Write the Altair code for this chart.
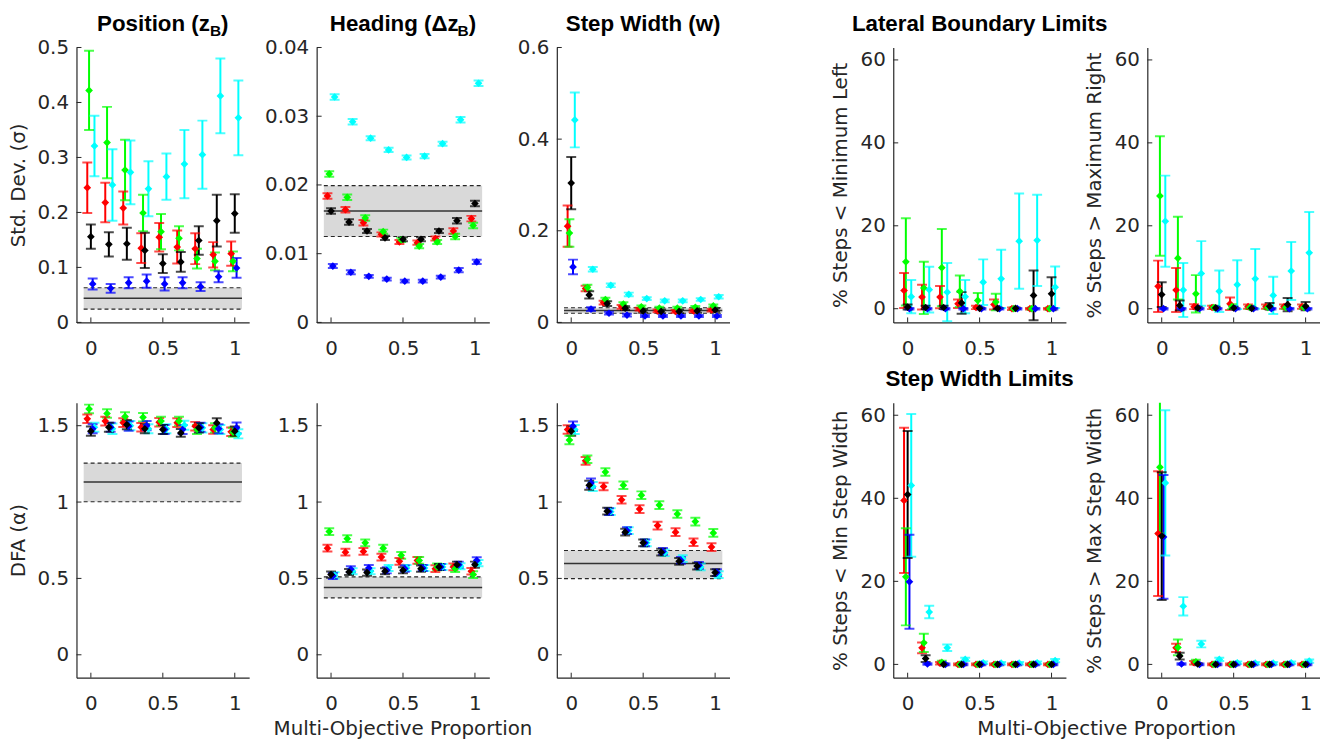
import altair as alt
import pandas as pd

XS = [0, 0.125, 0.25, 0.375, 0.5, 0.625, 0.75, 0.875, 1.0]
SERIES = ["red", "green", "cyan", "blue", "black"]
COLORS = ["#ff0000", "#00ff00", "#00ffff", "#0000ff", "#000000"]
OFFSETS = {"red": -0.025, "green": -0.0125, "black": 0.0, "blue": 0.0125, "cyan": 0.025}
BAND_X = [-0.05, 1.05]
X_TICKS = [0, 0.5, 1]

# ---- Position (z_B) : std dev
pos_mean = {
    "red":   [0.245, 0.218, 0.208, 0.135, 0.155, 0.137, 0.134, 0.123, 0.125],
    "green": [0.422, 0.327, 0.277, 0.199, 0.165, 0.153, 0.116, 0.111, 0.111],
    "cyan":  [0.321, 0.250, 0.273, 0.243, 0.265, 0.288, 0.305, 0.412, 0.372],
    "blue":  [0.070, 0.062, 0.072, 0.075, 0.070, 0.072, 0.065, 0.083, 0.099],
    "black": [0.156, 0.142, 0.143, 0.131, 0.107, 0.110, 0.149, 0.185, 0.198],
}
pos_err = {
    "red":   [0.046, 0.036, 0.030, 0.027, 0.026, 0.030, 0.028, 0.023, 0.022],
    "green": [0.072, 0.065, 0.055, 0.033, 0.032, 0.022, 0.018, 0.016, 0.018],
    "cyan":  [0.055, 0.065, 0.058, 0.050, 0.042, 0.062, 0.062, 0.068, 0.068],
    "blue":  [0.010, 0.008, 0.010, 0.012, 0.012, 0.010, 0.008, 0.010, 0.018],
    "black": [0.022, 0.022, 0.029, 0.032, 0.017, 0.018, 0.026, 0.047, 0.035],
}
pos_band = [0.024, 0.044, 0.063]
pos_ticks = [0, 0.1, 0.2, 0.3, 0.4, 0.5]

# ---- Heading : std dev
hdg_mean = {
    "red":   [0.0184, 0.0164, 0.0145, 0.0128, 0.0117, 0.0116, 0.0122, 0.0133, 0.0151],
    "green": [0.0216, 0.0182, 0.0152, 0.0132, 0.0120, 0.0111, 0.0117, 0.0125, 0.0141],
    "cyan":  [0.0328, 0.0292, 0.0268, 0.0251, 0.0240, 0.0242, 0.0260, 0.0295, 0.0348],
    "blue":  [0.0082, 0.0073, 0.0067, 0.0063, 0.0060, 0.0060, 0.0066, 0.0076, 0.0088],
    "black": [0.0162, 0.0146, 0.0133, 0.0123, 0.0121, 0.0121, 0.0133, 0.0148, 0.0173],
}
hdg_err = {
    "red":   [0.0004, 0.0004, 0.0004, 0.0003, 0.0003, 0.0003, 0.0003, 0.0004, 0.0004],
    "green": [0.0004, 0.0004, 0.0004, 0.0003, 0.0003, 0.0003, 0.0003, 0.0004, 0.0004],
    "cyan":  [0.0004, 0.0004, 0.0003, 0.0003, 0.0003, 0.0003, 0.0003, 0.0004, 0.0004],
    "blue":  [0.0003, 0.0003, 0.0002, 0.0002, 0.0002, 0.0002, 0.0002, 0.0003, 0.0003],
    "black": [0.0004, 0.0004, 0.0003, 0.0003, 0.0003, 0.0003, 0.0003, 0.0004, 0.0004],
}
hdg_band = [0.0125, 0.0162, 0.0199]
hdg_ticks = [0, 0.01, 0.02, 0.03, 0.04]

# ---- Step width : std dev
sw_mean = {
    "red":   [0.210, 0.074, 0.043, 0.034, 0.029, 0.025, 0.024, 0.025, 0.027],
    "green": [0.195, 0.076, 0.050, 0.040, 0.034, 0.031, 0.031, 0.033, 0.036],
    "cyan":  [0.442, 0.116, 0.081, 0.061, 0.052, 0.047, 0.047, 0.050, 0.056],
    "blue":  [0.121, 0.029, 0.020, 0.016, 0.014, 0.014, 0.014, 0.014, 0.014],
    "black": [0.304, 0.060, 0.041, 0.031, 0.025, 0.024, 0.024, 0.025, 0.027],
}
sw_err = {
    "red":   [0.045, 0.006, 0.004, 0.004, 0.003, 0.003, 0.003, 0.003, 0.003],
    "green": [0.030, 0.006, 0.004, 0.004, 0.003, 0.003, 0.003, 0.003, 0.003],
    "cyan":  [0.060, 0.005, 0.004, 0.004, 0.003, 0.003, 0.003, 0.003, 0.004],
    "blue":  [0.016, 0.004, 0.003, 0.003, 0.002, 0.002, 0.002, 0.002, 0.002],
    "black": [0.057, 0.008, 0.005, 0.004, 0.004, 0.004, 0.004, 0.004, 0.004],
}
sw_band = [0.020, 0.026, 0.032]
sw_ticks = [0, 0.2, 0.4, 0.6]

# ---- % steps < minimum left
lbl_mean = {
    "red":   [4.4, 2.8, 2.8, 1.2, 0.3, 1.0, 0.0, 0.0, 0.0],
    "green": [11.3, 5.0, 9.9, 4.2, 2.0, 1.6, 0.0, 0.0, 0.0],
    "cyan":  [2.9, 4.6, 4.0, 2.9, 6.4, 7.2, 16.3, 16.5, 5.2],
    "blue":  [0.0, 0.0, 0.0, 0.0, 0.0, 0.0, 0.0, 0.0, 0.0],
    "black": [0.4, 0.3, 0.3, 1.4, 0.1, 0.1, 0.1, 3.2, 3.6],
}
lbl_err = {
    "red":   [4.2, 3.0, 2.7, 1.0, 0.4, 1.2, 0.3, 0.2, 0.2],
    "green": [10.5, 6.3, 9.3, 3.8, 1.8, 2.0, 0.3, 0.3, 0.3],
    "cyan":  [4.0, 5.5, 7.0, 4.0, 5.5, 7.0, 11.5, 11.0, 5.0],
    "blue":  [0.2, 0.2, 0.2, 0.2, 0.2, 0.2, 0.2, 0.2, 0.2],
    "black": [0.6, 0.4, 0.4, 2.6, 0.2, 0.2, 0.2, 6.0, 4.0],
}

# ---- % steps > maximum right
rbl_mean = {
    "red":   [5.4, 4.5, 0.5, 0.3, 1.2, 0.5, 0.5, 0.5, 0.5],
    "green": [27.2, 12.2, 3.6, 0.3, 0.5, 0.3, 0.3, 0.3, 0.3],
    "cyan":  [21.1, 4.5, 8.5, 4.2, 5.8, 7.2, 3.2, 9.1, 13.5],
    "blue":  [0.0, 0.0, 0.0, 0.0, 0.0, 0.0, 0.0, 0.0, 0.0],
    "black": [3.4, 0.8, 0.2, 0.2, 0.2, 0.1, 0.6, 1.0, 0.6],
}
rbl_err = {
    "red":   [6.2, 5.3, 0.6, 0.4, 1.5, 0.5, 0.5, 0.5, 0.5],
    "green": [14.4, 10.0, 4.5, 0.4, 0.6, 0.4, 0.4, 0.4, 0.4],
    "cyan":  [11.0, 6.5, 7.8, 5.0, 5.9, 7.2, 4.5, 7.0, 9.8],
    "blue":  [0.2, 0.2, 0.2, 0.2, 0.2, 0.2, 0.2, 0.2, 0.2],
    "black": [3.0, 1.2, 0.3, 0.3, 0.3, 0.2, 0.8, 1.6, 1.0],
}

# ---- DFA position
dpos_mean = {
    "red":   [1.545, 1.530, 1.520, 1.490, 1.523, 1.520, 1.497, 1.475, 1.460],
    "green": [1.610, 1.580, 1.560, 1.555, 1.530, 1.530, 1.475, 1.486, 1.457],
    "cyan":  [1.490, 1.480, 1.500, 1.480, 1.480, 1.503, 1.486, 1.475, 1.447],
    "blue":  [1.480, 1.490, 1.497, 1.500, 1.475, 1.475, 1.490, 1.480, 1.486],
    "black": [1.464, 1.490, 1.507, 1.480, 1.475, 1.453, 1.486, 1.518, 1.464],
}
dpos_err = {
    "red":   [0.028, 0.028, 0.028, 0.028, 0.028, 0.028, 0.028, 0.028, 0.028],
    "green": [0.028, 0.028, 0.028, 0.028, 0.028, 0.028, 0.030, 0.030, 0.030],
    "cyan":  [0.030, 0.035, 0.030, 0.030, 0.030, 0.030, 0.030, 0.030, 0.030],
    "blue":  [0.030, 0.030, 0.030, 0.030, 0.030, 0.030, 0.030, 0.030, 0.035],
    "black": [0.030, 0.030, 0.030, 0.030, 0.030, 0.025, 0.030, 0.030, 0.030],
}
dpos_band = [1.002, 1.132, 1.255]

# ---- DFA heading
dhdg_mean = {
    "red":   [0.698, 0.672, 0.677, 0.640, 0.612, 0.618, 0.564, 0.575, 0.547],
    "green": [0.807, 0.760, 0.733, 0.698, 0.651, 0.618, 0.575, 0.564, 0.525],
    "cyan":  [0.520, 0.547, 0.547, 0.568, 0.568, 0.568, 0.575, 0.580, 0.600],
    "blue":  [0.516, 0.560, 0.568, 0.553, 0.564, 0.568, 0.575, 0.590, 0.618],
    "black": [0.525, 0.542, 0.538, 0.547, 0.553, 0.564, 0.575, 0.590, 0.590],
}
dhdg_err = {
    "red":   [0.022, 0.022, 0.022, 0.022, 0.022, 0.022, 0.022, 0.022, 0.022],
    "green": [0.022, 0.022, 0.022, 0.022, 0.022, 0.022, 0.022, 0.022, 0.022],
    "cyan":  [0.020, 0.020, 0.020, 0.020, 0.020, 0.020, 0.020, 0.020, 0.020],
    "blue":  [0.020, 0.020, 0.020, 0.020, 0.020, 0.020, 0.020, 0.020, 0.020],
    "black": [0.020, 0.020, 0.020, 0.020, 0.020, 0.020, 0.020, 0.020, 0.020],
}
dhdg_band = [0.373, 0.440, 0.510]

# ---- DFA step width
dsw_mean = {
    "red":   [1.475, 1.270, 1.102, 1.015, 0.954, 0.846, 0.803, 0.737, 0.705],
    "green": [1.406, 1.280, 1.197, 1.110, 1.045, 0.980, 0.922, 0.872, 0.798],
    "cyan":  [1.475, 1.102, 0.937, 0.813, 0.733, 0.668, 0.629, 0.575, 0.525],
    "blue":  [1.497, 1.124, 0.937, 0.813, 0.733, 0.677, 0.618, 0.586, 0.538],
    "black": [1.464, 1.110, 0.940, 0.803, 0.733, 0.672, 0.612, 0.581, 0.538],
}
dsw_err = {
    "red":   [0.028, 0.025, 0.025, 0.025, 0.025, 0.025, 0.025, 0.025, 0.025],
    "green": [0.028, 0.025, 0.025, 0.025, 0.025, 0.025, 0.025, 0.025, 0.025],
    "cyan":  [0.030, 0.030, 0.022, 0.022, 0.022, 0.022, 0.022, 0.022, 0.022],
    "blue":  [0.030, 0.030, 0.022, 0.022, 0.022, 0.022, 0.022, 0.022, 0.022],
    "black": [0.030, 0.030, 0.022, 0.022, 0.022, 0.022, 0.022, 0.022, 0.022],
}
dsw_band = [0.499, 0.597, 0.683]

# ---- % steps < min step width
minsw_mean = {
    "red":   [39.5, 4.0, 0.3, 0.0, 0.0, 0.0, 0.0, 0.0, 0.0],
    "green": [21.1, 5.2, 0.5, 0.0, 0.0, 0.0, 0.0, 0.0, 0.0],
    "cyan":  [43.1, 12.6, 4.0, 1.2, 0.4, 0.3, 0.3, 0.4, 0.9],
    "blue":  [19.9, 0.1, 0.0, 0.0, 0.0, 0.0, 0.0, 0.0, 0.0],
    "black": [40.9, 1.4, 0.0, 0.0, 0.0, 0.0, 0.0, 0.0, 0.0],
}
minsw_err = {
    "red":   [17.5, 1.3, 0.3, 0.2, 0.2, 0.2, 0.2, 0.2, 0.2],
    "green": [11.7, 2.2, 0.4, 0.2, 0.2, 0.2, 0.2, 0.2, 0.2],
    "cyan":  [17.2, 1.5, 0.8, 0.4, 0.3, 0.3, 0.3, 0.3, 0.4],
    "blue":  [11.3, 0.2, 0.2, 0.2, 0.2, 0.2, 0.2, 0.2, 0.2],
    "black": [15.3, 0.8, 0.2, 0.2, 0.2, 0.2, 0.2, 0.2, 0.2],
}

# ---- % steps > max step width
maxsw_mean = {
    "red":   [31.5, 4.0, 0.4, 0.0, 0.0, 0.0, 0.0, 0.0, 0.0],
    "green": [47.5, 4.1, 0.6, 0.0, 0.0, 0.0, 0.0, 0.0, 0.0],
    "cyan":  [43.7, 14.0, 4.9, 1.2, 0.4, 0.3, 0.3, 0.4, 0.8],
    "blue":  [30.7, 0.1, 0.0, 0.0, 0.0, 0.0, 0.0, 0.0, 0.0],
    "black": [30.9, 2.0, 0.1, 0.0, 0.0, 0.0, 0.0, 0.0, 0.0],
}
maxsw_err = {
    "red":   [15.0, 1.0, 0.4, 0.2, 0.2, 0.2, 0.2, 0.2, 0.2],
    "green": [16.0, 1.9, 0.5, 0.2, 0.2, 0.2, 0.2, 0.2, 0.2],
    "cyan":  [17.5, 2.2, 0.8, 0.4, 0.3, 0.3, 0.3, 0.3, 0.4],
    "blue":  [14.9, 0.2, 0.2, 0.2, 0.2, 0.2, 0.2, 0.2, 0.2],
    "black": [15.4, 0.8, 0.2, 0.2, 0.2, 0.2, 0.2, 0.2, 0.2],
}

pct_ticks = [0, 20, 40, 60]
dfa_ticks = [0, 0.5, 1, 1.5]

# ---------------------------------------------------------------- layout
W, H = 174, 277
GAPS = [68, 68, 165, 82]
FONT = "DejaVu Sans"
TFONT = "Liberation Sans"
AXC = "#262626"
# Arial/Liberation Sans Bold advance widths (per 1000 em)
BOLD_W = {"P": 667, "o": 611, "s": 556, "i": 278, "t": 333, "n": 611, " ": 278,
          "(": 333, "z": 500, ")": 333, "B": 722, "H": 722, "e": 556, "a": 556,
          "d": 611, "g": 611, "\u0394": 667}


def textw(s, size):
    return sum(BOLD_W[c] for c in s) * size / 1000.0


def build_df(means, errs):
    rows = []
    for s in SERIES:
        for i, x in enumerate(XS):
            m = means[s][i]
            e = errs[s][i]
            rows.append({"s": s, "x": x + OFFSETS[s], "m": m, "lo": m - e, "hi": m + e})
    return pd.DataFrame(rows)


ONE = pd.DataFrame({"k": [0]})


def text_layer(txt, x, y, size, align="left", weight="bold", font=TFONT, baseline="alphabetic", color="black"):
    return alt.Chart(ONE).mark_text(text=txt, align=align, baseline=baseline, font=font,
                                    fontWeight=weight, fontSize=size, color=color).encode(
        x=alt.value(x), y=alt.value(y))


def sub_title(main, sub, tail, size=22.5, subsize=15.5, y=-17):
    wm, ws, wt = textw(main, size), textw(sub, subsize), textw(tail, size)
    x0 = W / 2 - (wm + ws + wt) / 2
    return [text_layer(main, x0, y, size),
            text_layer(sub, x0 + wm, y + 5, subsize),
            text_layer(tail, x0 + wm + ws, y, size)]


def spacer(w):
    return alt.Chart(ONE).mark_point(opacity=0).encode(
        x=alt.value(0), y=alt.value(0)).properties(width=w, height=H)


def panel(means, errs, ydom, yvals, yfmt, band=None, ytitle=None, ytp=10, extra=None):
    df = build_df(means, errs)
    xscale = alt.Scale(domain=[-0.1, 1.1], nice=False, zero=False)
    yscale = alt.Scale(domain=ydom, nice=False, zero=False)
    xax = alt.Axis(values=X_TICKS, format="~g", title=None, grid=False, ticks=False,
                   labelPadding=16, labelFont=FONT, labelFontSize=20, labelColor=AXC,
                   domainColor=AXC, labelFlush=False)
    yargs = dict(values=yvals, format=yfmt, grid=False, ticks=False, labelPadding=8,
                 labelFont=FONT, labelFontSize=20, labelColor=AXC, domainColor=AXC)
    if ytitle:
        yax = alt.Axis(title=ytitle, titleFont=FONT, titleFontSize=20, titleFontWeight="normal",
                       titleColor=AXC, titlePadding=ytp, **yargs)
    else:
        yax = alt.Axis(title=None, **yargs)

    def X(f):
        return alt.X(f, type="quantitative", scale=xscale, axis=xax)

    def Y(f):
        return alt.Y(f, type="quantitative", scale=yscale, axis=yax)

    col = alt.Color("s:N", scale=alt.Scale(domain=SERIES, range=COLORS), legend=None)
    layers = []
    if band is not None:
        bdf = pd.DataFrame({"x0": [BAND_X[0]], "x1": [BAND_X[1]], "lo": [band[0]],
                            "mid": [band[1]], "hi": [band[2]]})
        bc = alt.Chart(bdf)
        layers.append(bc.mark_rect(color="#d9d9d9").encode(x=X("x0"), x2="x1", y=Y("lo"), y2="hi"))
        layers.append(bc.mark_rule(color="#333333", strokeWidth=1.5).encode(x=X("x0"), x2="x1", y=Y("mid")))
        layers.append(bc.mark_rule(color="#262626", strokeWidth=1.2, strokeDash=[4, 3]).encode(x=X("x0"), x2="x1", y=Y("lo")))
        layers.append(bc.mark_rule(color="#262626", strokeWidth=1.2, strokeDash=[4, 3]).encode(x=X("x0"), x2="x1", y=Y("hi")))
    # inward axis ticks (MATLAB style)
    ytk = pd.DataFrame({"v": yvals})
    layers.append(alt.Chart(ytk).mark_rule(color=AXC, strokeWidth=1).encode(
        x=alt.value(0), x2=alt.value(5), y=Y("v")))
    xtk = pd.DataFrame({"v": X_TICKS})
    layers.append(alt.Chart(xtk).mark_rule(color=AXC, strokeWidth=1).encode(
        x=X("v"), y=alt.value(H), y2=alt.value(H - 5)))
    base = alt.Chart(df)
    layers.append(base.mark_rule(strokeWidth=2, clip=True).encode(x=X("x"), y=Y("lo"), y2="hi", color=col))
    layers.append(base.mark_tick(orient="horizontal", size=10, thickness=2, clip=True).encode(x=X("x"), y=Y("lo"), color=col))
    layers.append(base.mark_tick(orient="horizontal", size=10, thickness=2, clip=True).encode(x=X("x"), y=Y("hi"), color=col))
    layers.append(base.mark_point(shape="diamond", filled=True, size=60, opacity=1, clip=True).encode(x=X("x"), y=Y("m"), color=col))
    if extra:
        layers.extend(extra)
    return alt.layer(*layers).properties(width=W, height=H)


XLAB = "Multi-Objective Proportion"
pct_dom_top = [-3.3, 63]
pct_dom_bot = [-3.2, 63]
dfa_dom = [-0.15, 1.65]

p1 = panel(pos_mean, pos_err, [0, 0.5], pos_ticks, ".1~f", band=pos_band,
           ytitle="Std. Dev. (\u03c3)", ytp=9, extra=sub_title("Position (z", "B", ")"))
p2 = panel(hdg_mean, hdg_err, [0, 0.04], hdg_ticks, ".2~f", band=hdg_band,
           extra=sub_title("Heading (\u0394z", "B", ")"))
p3 = panel(sw_mean, sw_err, [0, 0.6], sw_ticks, ".1~f", band=sw_band,
           extra=[text_layer("Step Width (w)", W / 2, -17, 22.5, align="center")])
p4 = panel(lbl_mean, lbl_err, pct_dom_top, pct_ticks, "d", ytitle="% Steps < Minimum Left", ytp=10,
           extra=[text_layer("Lateral Boundary Limits", W / 2, -17, 22.5, align="center")])
p5 = panel(rbl_mean, rbl_err, pct_dom_top, pct_ticks, "d", ytitle="% Steps > Maximum Right", ytp=10)

p6 = panel(dpos_mean, dpos_err, dfa_dom, dfa_ticks, ".1~f", band=dpos_band,
           ytitle="DFA (\u03b1)", ytp=9)
p7 = panel(dhdg_mean, dhdg_err, dfa_dom, dfa_ticks, ".1~f", band=dhdg_band,
           extra=[text_layer(XLAB, W / 2, H + 52, 20, align="center", weight="normal", font=FONT,
                             baseline="middle", color=AXC)])
p8 = panel(dsw_mean, dsw_err, dfa_dom, dfa_ticks, ".1~f", band=dsw_band)
p9 = panel(minsw_mean, minsw_err, pct_dom_bot, pct_ticks, "d", ytitle="% Steps < Min Step Width", ytp=10,
           extra=[text_layer("Step Width Limits", W / 2, -17, 22.5, align="center"),
                  text_layer(XLAB, W + GAPS[3] / 2, H + 52, 20, align="center",
                             weight="normal", font=FONT, baseline="middle", color=AXC)])
p10 = panel(maxsw_mean, maxsw_err, pct_dom_bot, pct_ticks, "d", ytitle="% Steps > Max Step Width", ytp=10)


def row(a, b, c, d, e):
    return [a, spacer(GAPS[0]), b, spacer(GAPS[1]), c, spacer(GAPS[2]), d, spacer(GAPS[3]), e]


cells = row(p1, p2, p3, p4, p5) + row(p6, p7, p8, p9, p10)

chart = alt.concat(*cells, columns=9, spacing={"row": 81, "column": 0}, bounds="flush").properties(
    padding={"left": 0, "top": 2, "right": 0, "bottom": 0},
    background="white",
).configure_view(stroke=None).configure_axis(domainWidth=1.2)

chart.save("out.html", embed_options={"renderer": "svg", "actions": False})
